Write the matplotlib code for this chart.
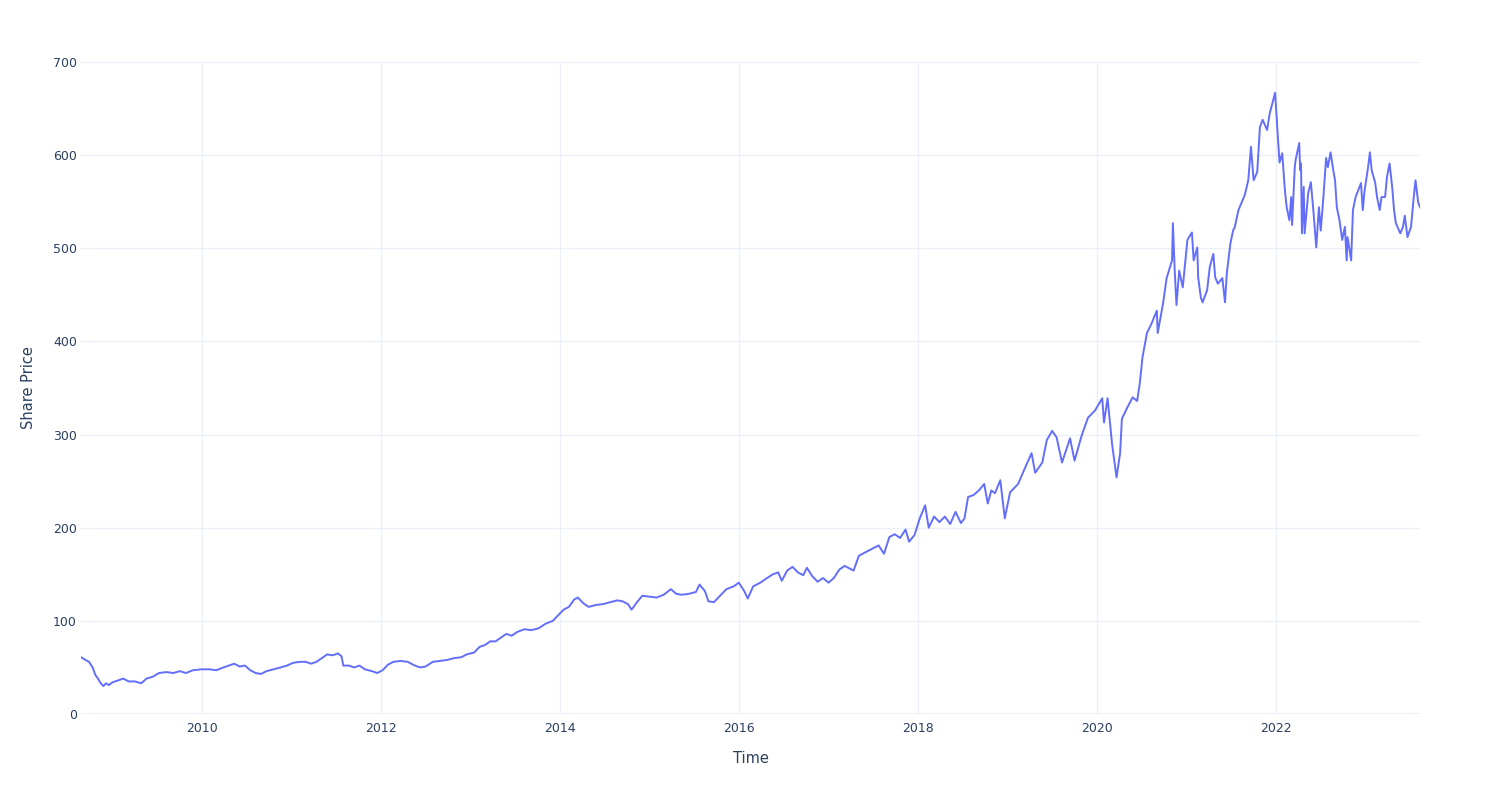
import numpy as np
import pandas as pd
import matplotlib
matplotlib.use("Agg")
import matplotlib.pyplot as plt
import matplotlib.dates as mdates

# valores (fecha en años decimales, precio)
years = [
    2008.65, 2008.70, 2008.74, 2008.78, 2008.81, 2008.84, 2008.87, 2008.90, 2008.93, 2008.96,
    2009.00, 2009.06, 2009.12, 2009.18, 2009.25, 2009.32, 2009.38, 2009.45, 2009.52, 2009.60,
    2009.68, 2009.75, 2009.82, 2009.90, 2010.00, 2010.08, 2010.16, 2010.24, 2010.30, 2010.36,
    2010.42, 2010.48, 2010.54, 2010.60, 2010.66, 2010.72, 2010.80, 2010.88, 2010.95, 2011.02,
    2011.10, 2011.16, 2011.22, 2011.28, 2011.34, 2011.40, 2011.46, 2011.52, 2011.56, 2011.58,
    2011.64, 2011.70, 2011.76, 2011.82, 2011.90, 2011.96, 2012.02, 2012.08, 2012.14, 2012.22,
    2012.30, 2012.38, 2012.44, 2012.50, 2012.58, 2012.66, 2012.74, 2012.82, 2012.90, 2012.96,
    2013.04, 2013.10, 2013.16, 2013.22, 2013.28, 2013.34, 2013.40, 2013.46, 2013.52, 2013.60,
    2013.68, 2013.76, 2013.84, 2013.92, 2013.98, 2014.04, 2014.10, 2014.16, 2014.20, 2014.26,
    2014.32, 2014.40, 2014.48, 2014.56, 2014.64, 2014.70, 2014.76, 2014.80, 2014.86, 2014.92,
    2015.00, 2015.08, 2015.16, 2015.24, 2015.30, 2015.36, 2015.44, 2015.52, 2015.56, 2015.62,
    2015.66, 2015.72, 2015.78, 2015.86, 2015.94, 2016.00, 2016.06, 2016.10, 2016.16, 2016.24,
    2016.30, 2016.38, 2016.44, 2016.48, 2016.54, 2016.60, 2016.66, 2016.72, 2016.76, 2016.82,
    2016.88, 2016.94, 2017.00, 2017.06, 2017.12, 2017.18, 2017.24, 2017.28, 2017.34, 2017.42,
    2017.50, 2017.56, 2017.62, 2017.68, 2017.74, 2017.80, 2017.86, 2017.90, 2017.96, 2018.02,
    2018.08, 2018.12, 2018.18, 2018.24, 2018.30, 2018.36, 2018.42, 2018.48, 2018.52, 2018.56,
    2018.62, 2018.68, 2018.74, 2018.78, 2018.82, 2018.86, 2018.92, 2018.97, 2019.03, 2019.12,
    2019.20, 2019.27, 2019.31, 2019.39, 2019.44, 2019.50, 2019.55, 2019.61, 2019.70, 2019.75,
    2019.83, 2019.90, 2019.98, 2020.06, 2020.08, 2020.12, 2020.17, 2020.22, 2020.26, 2020.28,
    2020.34, 2020.40, 2020.45, 2020.48, 2020.51, 2020.56, 2020.61, 2020.67, 2020.68, 2020.74,
    2020.78, 2020.84, 2020.85, 2020.87, 2020.89, 2020.92, 2020.96, 2021.01, 2021.06, 2021.08,
    2021.12, 2021.13, 2021.16, 2021.18, 2021.23, 2021.26, 2021.30, 2021.32, 2021.35, 2021.40,
    2021.43, 2021.45, 2021.49, 2021.52, 2021.54, 2021.58, 2021.65, 2021.69, 2021.72, 2021.75,
    2021.79, 2021.82, 2021.85, 2021.90, 2021.93, 2021.96, 2021.99, 2022.02, 2022.04, 2022.07,
    2022.10, 2022.12, 2022.15, 2022.17, 2022.18, 2022.21, 2022.22, 2022.26, 2022.27, 2022.28,
    2022.29, 2022.31, 2022.32, 2022.36, 2022.39, 2022.42, 2022.45, 2022.48, 2022.50, 2022.53,
    2022.56, 2022.58, 2022.61, 2022.64, 2022.66, 2022.68, 2022.71, 2022.74, 2022.77, 2022.79,
    2022.80, 2022.84, 2022.86, 2022.89, 2022.93, 2022.95, 2022.97, 2022.99, 2023.03, 2023.05,
    2023.07, 2023.11, 2023.13, 2023.16, 2023.18, 2023.22, 2023.24, 2023.27, 2023.30, 2023.32,
    2023.34, 2023.39, 2023.42, 2023.44, 2023.47, 2023.51, 2023.54, 2023.56, 2023.59, 2023.61,
]
precios = [
    61, 58, 56, 50, 42, 38, 33, 30, 33, 31,
    34, 36, 38, 35, 35, 33, 38, 40, 44, 45,
    44, 46, 44, 47, 48, 48, 47, 50, 52, 54,
    51, 52, 47, 44, 43, 46, 48, 50, 52, 55,
    56, 56, 54, 56, 60, 64, 63, 65, 62, 52,
    52, 50, 52, 48, 46, 44, 47, 53, 56, 57,
    56, 52, 50, 51, 56, 57, 58, 60, 61, 64,
    66, 72, 74, 78, 78, 82, 86, 84, 88, 91,
    90, 92, 97, 100, 106, 112, 115, 123, 125, 119,
    115, 117, 118, 120, 122, 121, 118, 112, 120, 127,
    126, 125, 128, 134, 129, 128, 129, 131, 139, 132,
    121, 120, 126, 134, 137, 141, 132, 124, 137, 141,
    145, 150, 152, 143, 154, 158, 152, 149, 157, 148,
    142, 146, 141, 146, 155, 159, 156, 154, 170, 174,
    178, 181, 172, 190, 193, 189, 198, 185, 192, 210,
    224, 200, 212, 206, 212, 204, 217, 205, 210, 233,
    235, 240, 247, 226, 240, 237, 251, 210, 238, 247,
    265, 280, 259, 270, 294, 304, 297, 270, 296, 272,
    299, 318, 326, 339, 313, 339, 290, 254, 280, 317,
    329, 340, 336, 355, 383, 409, 419, 433, 409, 441,
    468, 487, 527, 476, 439, 476, 458, 509, 517, 487,
    501, 469, 447, 442, 455, 480, 494, 469, 462, 468,
    442, 473, 505, 519, 523, 541, 557, 573, 609, 573,
    582, 630, 638, 627, 645, 656, 667, 621, 592, 602,
    562, 544, 530, 555, 525, 587, 595, 613, 584, 591,
    516, 566, 516, 559, 571, 538, 501, 544, 519, 555,
    597, 587, 603, 584, 573, 544, 530, 509, 523, 487,
    512, 487, 541, 555, 565, 570, 541, 562, 587, 603,
    584, 570, 555, 541, 555, 555, 576, 591, 565, 541,
    527, 516, 523, 535, 512, 523, 555, 573, 549, 544,
]


def a_fecha(anios):
    # año decimal -> fecha
    fechas = []
    for a in anios:
        base = pd.Timestamp(int(a), 1, 1)
        fechas.append(base + pd.Timedelta(days=(a - int(a)) * 365.25))
    return pd.to_datetime(fechas)


fechas = a_fecha(years)

plt.rcParams["font.family"] = ["DejaVu Sans"]
texto = "#2a3f5f"
grid = "#ebf0f8"

fig = plt.figure(figsize=(15, 8), dpi=100)
ax = fig.add_axes([81 / 1500, 1 - 714 / 800, (1420 - 81) / 1500, (714 - 62) / 800])

ax.plot(fechas, precios, color="#636efa", linewidth=1.4, zorder=3)

ax.set_xlim(fechas[0], fechas[-1])
ax.set_ylim(0, 700)
ax.set_yticks(np.arange(0, 701, 100))
ax.xaxis.set_major_locator(mdates.YearLocator(2))
ax.xaxis.set_major_formatter(mdates.DateFormatter("%Y"))

ax.grid(True, color=grid, linewidth=1, zorder=0)
ax.axhline(0, color=grid, linewidth=2, zorder=1)
for s in ax.spines.values():
    s.set_visible(False)
ax.tick_params(axis="both", length=0, labelsize=9, labelcolor=texto)
ax.tick_params(axis="x", pad=6)
ax.tick_params(axis="y", pad=3)

ax.set_xlabel("Time", fontsize=10.5, color=texto, labelpad=11)
ax.set_ylabel("Share Price", fontsize=10.5, color=texto, labelpad=12)

fig.savefig("out.png", dpi=100, facecolor="white")
